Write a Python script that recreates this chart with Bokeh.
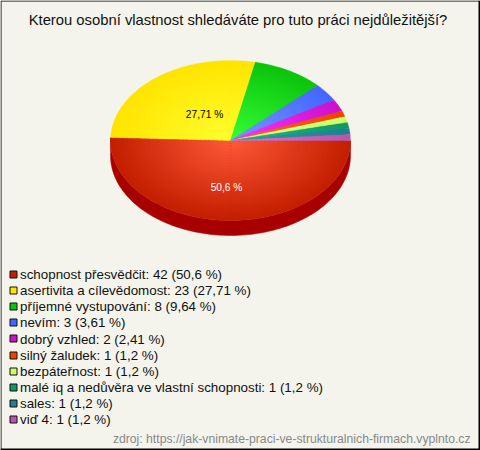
import numpy as np
from bokeh.plotting import figure
from bokeh.models import Range1d
from bokeh.embed import file_html
from bokeh.resources import INLINE
from bokeh.core.properties import value

TITLE = "Kterou osobní vlastnost shledáváte pro tuto práci nejdůležitější?"
SOURCE = "zdroj: https://jak-vnimate-praci-ve-strukturalnich-firmach.vyplnto.cz"
names = ["schopnost přesvědčit", "asertivita a cílevědomost", "příjemné vystupování", "nevím", "dobrý vzhled",
         "silný žaludek", "bezpáteřnost", "malé iq a nedůvěra ve vlastní schopnosti", "sales", "viď 4"]
counts = [42, 23, 8, 3, 2, 1, 1, 1, 1, 1]
percents = ["50,6", "27,71", "9,64", "3,61", "2,41", "1,2", "1,2", "1,2", "1,2", "1,2"]
edge_colors = ["#c41f00", "#ffe400", "#0cc40c", "#4466ff", "#cc11cc", "#ee4400", "#c8ff66", "#109966", "#1f8090", "#bb55aa"]
centre_colors = ["#ff5a3a", "#ffff30", "#36ff36", "#7799ff", "#ff33ff", "#ff6633", "#e0ff99", "#22bb88", "#3399aa", "#dd77cc"]
W, H = 480, 450
BG = "#f4f4ec"
CX, CY, RX, RY, DEPTH = 230, 140, 120, 80, 15

def rgb(h):
    return np.array([int(h[i:i+2], 16) for i in (1, 3, 5)], float)

def mix(a, b, t):
    c = rgb(a) * (1 - t) + rgb(b) * t
    return "#%02x%02x%02x" % tuple(int(round(v)) for v in c)

p = figure(width=W, height=H, output_backend="svg", toolbar_location=None,
           x_range=Range1d(0, W), y_range=Range1d(H, 0), min_border=0,
           background_fill_color=BG, border_fill_color=BG, outline_line_color=None)
p.xaxis.visible = False
p.yaxis.visible = False
p.grid.visible = False

# frame
p.quad(left=[0.5], right=[W - 1.0], top=[0.5], bottom=[H - 1.0], fill_color=None, line_color="#000000",
       line_width=1, line_join="miter")
p.segment(x0=[W - 1.0, 0], y0=[0, H - 1.0], x1=[W - 1.0, W], y1=[H, H - 1.0], line_color="#000000", line_width=2)

total = sum(counts)
frac = np.cumsum([0] + counts) / total * 2 * np.pi

# side of the first slice (lower half)
a0 = np.linspace(frac[0], frac[1], 120)
sx = np.concatenate([CX + RX * np.cos(a0), CX + RX * np.cos(a0[::-1])])
sy = np.concatenate([CY + RY * np.sin(a0), CY + DEPTH + RY * np.sin(a0[::-1])])
p.patch(sx, sy, fill_color="#a80000", line_color="#a80000", line_width=0.5)

STEPS = 28
xs, ys, cols = [], [], []
for s in range(STEPS, 0, -1):
    t = s / STEPS
    for i in range(len(counts)):
        a = np.linspace(frac[i], frac[i + 1], max(6, int(120 * (frac[i + 1] - frac[i]))))
        xs.append(np.concatenate([[CX], CX + t * RX * np.cos(a)]))
        ys.append(np.concatenate([[CY], CY + t * RY * np.sin(a)]))
        cols.append(mix(centre_colors[i], edge_colors[i], t))
p.patches(xs, ys, fill_color=cols, line_color=cols, line_width=0.3)

font = value("Liberation Sans")
p.text([237.5], [19.5], text=[TITLE], text_font=font, text_font_size="14.8px", text_align="center",
       text_baseline="middle", text_color="#111111")
p.text([204], [114], text=[percents[1] + " %"], text_font=font, text_font_size="10.2px", text_align="center",
       text_baseline="middle", text_color="#000000")
p.text([226], [186.7], text=[percents[0] + " %"], text_font=font, text_font_size="10.2px", text_align="center",
       text_baseline="middle", text_color="#ffffff")

rows = [274.3 + 16.05 * i for i in range(len(names))]
p.quad(left=[9.5] * 10, right=[16.5] * 10, top=[round(r) - 3.5 for r in rows], bottom=[round(r) + 3.5 for r in rows],
       fill_color=edge_colors, line_color="#111111", line_width=1, line_join="miter")
p.text([19.5] * 10, rows, text=[f"{n}: {c} ({q} %)" for n, c, q in zip(names, counts, percents)],
       text_font=font, text_font_size="13.37px", text_align="left", text_baseline="middle", text_color="#111111")
p.text([470], [438], text=[SOURCE], text_font=font, text_font_size="12.2px", text_align="right",
       text_baseline="middle", text_color="#888888")

open("out.html", "w").write(file_html(p, INLINE))
